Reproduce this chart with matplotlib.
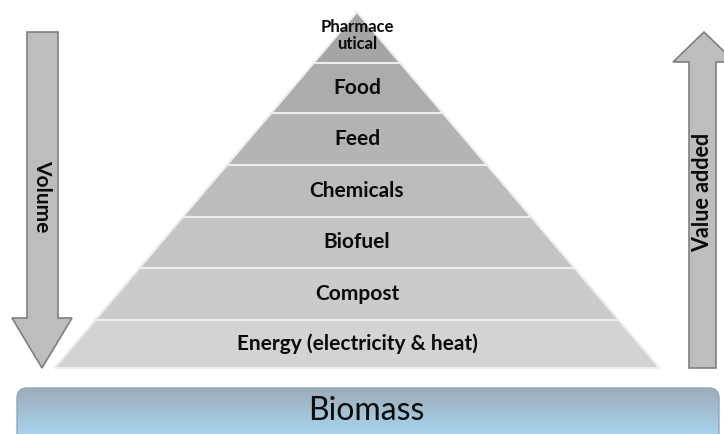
import matplotlib.pyplot as plt
import numpy as np
from matplotlib.patches import Polygon, FancyBboxPatch

# pyramid tiers, top to bottom
tiers = ["Pharmace\nutical", "Food", "Feed", "Chemicals", "Biofuel", "Compost",
         "Energy (electricity & heat)"]
tier_shades = ["#a5a5a5", "#acacac", "#b4b4b4", "#bcbcbc", "#c4c4c4", "#cbcbcb", "#d3d3d3"]
tier_font = [12, 15, 15, 15, 15, 15, 15]
left_label = "Volume"
right_label = "Value added"
base_label = "Biomass"

W, H = 724, 434
apex = (357, 12)
base_y, base_l, base_r = 368, 57, 662
tier_h = [51, 50, 52, 52, 51, 52, 48]

fig = plt.figure(figsize=(W / 100, H / 100), dpi=100)
ax = fig.add_axes([0, 0, 1, 1])
ax.set_xlim(0, W)
ax.set_ylim(H, 0)
ax.axis("off")

font = "Lato"


def half_width(y):
    return (y - apex[1]) / (base_y - apex[1]) * (base_r - base_l) / 2


y0 = apex[1]
for i, name in enumerate(tiers):
    y1 = y0 + tier_h[i]
    w0, w1 = half_width(y0), half_width(y1)
    pts = [(apex[0] - w0, y0), (apex[0] + w0, y0), (apex[0] + w1, y1), (apex[0] - w1, y1)]
    ax.add_patch(Polygon(pts, closed=True, facecolor=tier_shades[i],
                         edgecolor="#eeeeee", linewidth=1.5))
    ty = (y0 + y1) / 2 - (2 if i == 0 else 0)
    ax.text(apex[0], ty, name, ha="center", va="center", fontsize=tier_font[i],
            fontweight="bold", family=font, color="#0a0a0a", linespacing=1.15)
    y0 = y1

# left arrow (down)
ax.add_patch(Polygon([(27, 32), (58, 32), (58, 318), (72, 318), (42, 368),
                      (12, 318), (27, 318)], closed=True,
                     facecolor="#bdbdbd", edgecolor="#7f7f7f", linewidth=1.2))
ax.text(42, 196, left_label, rotation=-90, ha="center", va="center",
        fontsize=15, fontweight="bold", family=font, color="#0a0a0a")

# right arrow (up)
ax.add_patch(Polygon([(689, 368), (716, 368), (716, 62), (735, 62), (704, 32),
                      (673, 62), (689, 62)], closed=True,
                     facecolor="#bdbdbd", edgecolor="#7f7f7f", linewidth=1.2))
ax.text(703, 192, right_label, rotation=90, ha="center", va="center",
        fontsize=15.5, fontweight="bold", family=font, color="#0a0a0a")

# biomass box with gradient
box = FancyBboxPatch((17, 388), 702, 60, boxstyle="round,pad=0,rounding_size=10",
                     facecolor="none", edgecolor="#8fa6b5", linewidth=1.0)
ax.add_patch(box)
grad = np.linspace(0, 1, 100).reshape(-1, 1)
top = np.array([0x9d, 0xac, 0xb8]) / 255
bot = np.array([0xa8, 0xd4, 0xee]) / 255
img = top + (bot - top) * grad[..., None]
im = ax.imshow(img, extent=(17, 719, 434, 388), aspect="auto", zorder=0)
im.set_clip_path(box)
ax.text(366, 411, base_label, ha="center", va="center", fontsize=23,
        family=font, color="#0a0a0a")

ax.set_xlim(0, W)
ax.set_ylim(H, 0)
fig.savefig("out.png", dpi=100)
